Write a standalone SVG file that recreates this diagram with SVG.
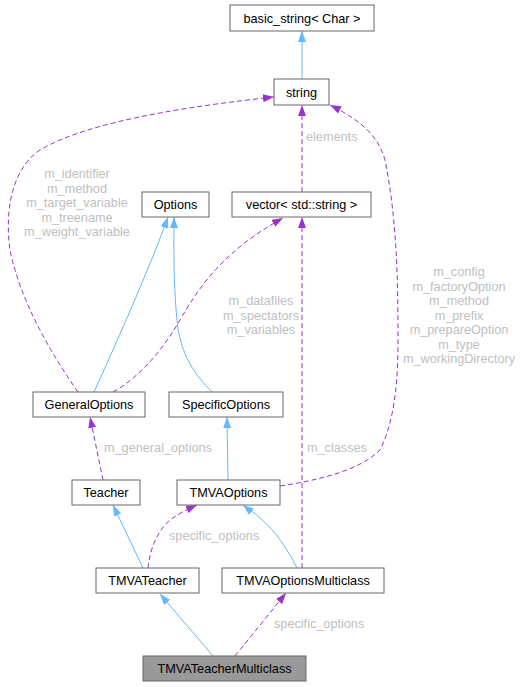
<svg xmlns="http://www.w3.org/2000/svg" width="524" height="687" viewBox="0 0 524 687">
<defs>
<marker id="ab" viewBox="0 0 11 8" refX="11" refY="4" markerWidth="11" markerHeight="8" markerUnits="userSpaceOnUse" orient="auto"><path d="M0,0 L11,4 L0,8 z" fill="#63b8ff"/></marker>
<marker id="ap" viewBox="0 0 11 8" refX="11" refY="4" markerWidth="11" markerHeight="8" markerUnits="userSpaceOnUse" orient="auto"><path d="M0,0 L11,4 L0,8 z" fill="#9a32cd"/></marker>
</defs>
<style>
.n rect{fill:#ffffff;stroke:#666666;stroke-width:1}
.n text{font-family:"Liberation Sans",Arial,sans-serif;font-size:12.7px;fill:#000000;text-anchor:middle}
.b{fill:none;stroke:#63b8ff;stroke-width:1;marker-end:url(#ab)}
.p{fill:none;stroke:#9a32cd;stroke-width:1;stroke-dasharray:5,3;marker-end:url(#ap)}
.l{font-family:"Liberation Sans",Arial,sans-serif;font-size:12.7px;fill:#c0c0c0}
</style>
<rect width="524" height="687" fill="#ffffff"/>
<g id="edges">
<path class="b" d="M302,79 L302,31"/>
<path class="p" d="M302,192 L302,105"/>
<text class="l" x="306" y="141">elements</text>
<path class="p" d="M78,392 C50,352 20,300 10,250 C5,215 10,170 40,150 C90,120 200,105 274,97"/>
<text class="l" text-anchor="middle"><tspan x="77" y="178">m_identifier</tspan><tspan x="77" y="192.5">m_method</tspan><tspan x="77" y="207">m_target_variable</tspan><tspan x="77" y="221.5">m_treename</tspan><tspan x="77" y="236">m_weight_variable</tspan></text>
<path class="b" d="M94,392 C120,335 152,262 168,217"/>
<path class="b" d="M212,392 C196,376 180,355 177,320 C173,280 174,240 174,217"/>
<path class="p" d="M113,392 C135,380 160,355 180,320 C200,285 225,250 283,218"/>
<text class="l" text-anchor="middle"><tspan x="261" y="305">m_datafiles</tspan><tspan x="261" y="319.5">m_spectators</tspan><tspan x="261" y="334">m_variables</tspan></text>
<path class="b" d="M228,480 L227,417"/>
<path class="p" d="M103,480 L90,417"/>
<text class="l" x="104" y="452">m_general_options</text>
<path class="p" d="M280,486 C320,480 360,470 380,450 C395,420 398,380 398,340 C398,280 397,220 385,160 C378,135 360,120 330,105"/>
<text class="l" text-anchor="middle"><tspan x="459" y="276">m_config</tspan><tspan x="459" y="290.5">m_factoryOption</tspan><tspan x="459" y="305">m_method</tspan><tspan x="459" y="319.5">m_prefix</tspan><tspan x="459" y="334">m_prepareOption</tspan><tspan x="459" y="348.5">m_type</tspan><tspan x="459" y="363">m_workingDirectory</tspan></text>
<path class="p" d="M302,568 L302,217"/>
<text class="l" x="307" y="452">m_classes</text>
<path class="b" d="M143,568 L113,505"/>
<path class="p" d="M148,568 C150,548 158,530 170,520 C178,514 188,509 197,505"/>
<text class="l" x="169" y="540">specific_options</text>
<path class="b" d="M297,568 C288,550 275,530 260,518 C255,513 248,509 243,505"/>
<path class="b" d="M213,656 L160,594"/>
<path class="p" d="M235,656 L286,593"/>
<text class="l" x="274" y="628">specific_options</text>
</g>
<g id="basic_string" class="n"><rect x="230" y="5" width="144" height="26"/><text x="302" y="22.5">basic_string&lt; Char &gt;</text></g>
<g id="string" class="n"><rect x="274" y="79" width="55" height="26"/><text x="301.5" y="96.5">string</text></g>
<g id="Options" class="n"><rect x="142" y="192" width="67" height="25"/><text x="175.5" y="208.5">Options</text></g>
<g id="vector_string" class="n"><rect x="232" y="192" width="139" height="25"/><text x="301.5" y="208.5">vector&lt; std::string &gt;</text></g>
<g id="GeneralOptions" class="n"><rect x="33" y="392" width="112" height="25"/><text x="89" y="408.5">GeneralOptions</text></g>
<g id="SpecificOptions" class="n"><rect x="169" y="392" width="114" height="25"/><text x="226" y="408.5">SpecificOptions</text></g>
<g id="Teacher" class="n"><rect x="72" y="480" width="68" height="25"/><text x="106" y="496.5">Teacher</text></g>
<g id="TMVAOptions" class="n"><rect x="177" y="480" width="103" height="25"/><text x="228.5" y="496.5">TMVAOptions</text></g>
<g id="TMVATeacher" class="n"><rect x="96" y="568" width="103" height="25"/><text x="147.5" y="584.5">TMVATeacher</text></g>
<g id="TMVAOptionsMulticlass" class="n"><rect x="222" y="568" width="162" height="25"/><text x="303" y="584.5">TMVAOptionsMulticlass</text></g>
<g id="TMVATeacherMulticlass" class="n"><rect x="143" y="656" width="163" height="25" style="fill:#999999"/><text x="224.5" y="672.5">TMVATeacherMulticlass</text></g>
</svg>
